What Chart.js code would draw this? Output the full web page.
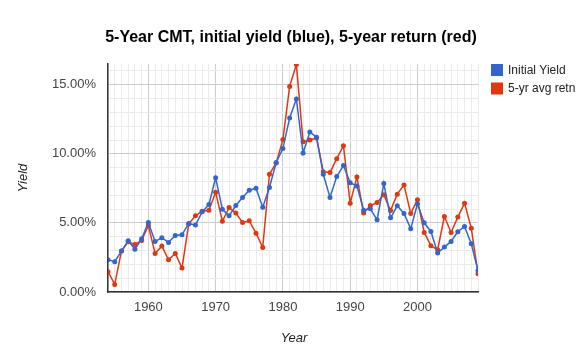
<!DOCTYPE html>
<html><head><meta charset="utf-8">
<script src="https://cdn.jsdelivr.net/npm/chart.js@4/dist/chart.umd.min.js"></script>
<style>html,body{margin:0;padding:0;background:#fff}#w{width:586px;height:352px}</style>
</head><body><div id="w"><canvas id="c" width="586" height="352"></canvas></div>
<script>
const years = [1954,1955,1956,1957,1958,1959,1960,1961,1962,1963,1964,1965,1966,1967,1968,1969,1970,1971,1972,1973,1974,1975,1976,1977,1978,1979,1980,1981,1982,1983,1984,1985,1986,1987,1988,1989,1990,1991,1992,1993,1994,1995,1996,1997,1998,1999,2000,2001,2002,2003,2004,2005,2006,2007,2008,2009];
const initialYield = [2.33,2.19,2.96,3.71,3.10,3.85,5.03,3.66,3.92,3.59,4.09,4.14,4.96,4.84,5.80,6.33,8.26,5.98,5.51,6.26,6.84,7.37,7.51,6.14,7.56,9.37,10.38,12.60,13.97,10.06,11.58,11.20,8.52,6.84,8.35,9.15,7.90,7.68,5.92,6.02,5.22,7.85,5.37,6.24,5.68,4.57,6.38,5.01,4.38,2.82,3.25,3.66,4.36,4.74,3.49,1.56];
const avgReturn = [1.47,0.55,2.96,3.63,3.44,3.73,4.81,2.79,3.32,2.33,2.79,1.73,4.93,5.51,5.85,5.92,7.22,5.12,6.11,5.71,5.03,5.15,4.26,3.22,8.52,9.34,11.03,14.88,16.47,10.88,11.00,11.15,8.71,8.64,9.65,10.59,6.43,8.33,5.71,6.26,6.47,7.03,5.90,7.08,7.75,5.68,6.67,4.31,3.35,3.06,5.46,4.31,5.42,6.43,4.62,1.32];
const yTickLabels = [0,5,10,15];
const xTickLabels = [1960,1970,1980,1990,2000];
const seriesNames = ['Initial Yield','5-yr avg retn'];
const titleText = '5-Year CMT, initial yield (blue), 5-year return (red)';
const BLUE = '#3366cc', RED = '#dc3912';

const toPts = arr => arr.map((v,i)=>({x:years[i], y:v}));

const deco = {
  id:'deco',
  afterDraw(chart){
    const c = chart.ctx; c.save();
    c.fillStyle = '#000';
    c.font = 'bold 16px "Liberation Sans", Arial, sans-serif';
    c.textAlign = 'center'; c.textBaseline = 'middle';
    c.fillText(titleText, 291, 38);
    c.fillStyle = '#222';
    c.font = 'italic 13px "Liberation Sans", Arial, sans-serif';
    c.fillText('Year', 294, 338);
    c.save(); c.translate(23, 178); c.rotate(-Math.PI/2); c.fillText('Yield', 0, 0); c.restore();
    const cols = [BLUE, RED];
    c.font = '12px "Liberation Sans", Arial, sans-serif';
    c.textAlign = 'left';
    seriesNames.forEach((n,i)=>{
      const y = 64 + i*18.5;
      c.fillStyle = cols[i]; c.fillRect(491, y, 12, 12);
      c.fillStyle = '#222'; c.fillText(n, 508, y+6.5);
    });
    c.restore();
  }
};

new Chart(document.getElementById('c'), {
  type:'line',
  data:{ datasets:[
    {label:seriesNames[0], data:toPts(initialYield), borderColor:BLUE, backgroundColor:BLUE, borderWidth:1.5, pointRadius:2.5, pointBorderWidth:0, tension:0},
    {label:seriesNames[1], data:toPts(avgReturn), borderColor:RED, backgroundColor:RED, borderWidth:1.5, pointRadius:2.5, pointBorderWidth:0, tension:0}
  ]},
  options:{
    responsive:false, animation:false, devicePixelRatio:1,
    layout:{padding:{left:0,right:108,top:64,bottom:0}},
    plugins:{legend:{display:false}, title:{display:false}, tooltip:{enabled:false}},
    scales:{
      x:{type:'linear', min:1954, max:2009,
        afterFit(s){ s.height = 60; },
        afterBuildTicks(s){ const t=[]; for(let v=1954; v<=2009; v++) t.push({value:v}); s.ticks=t; },
        ticks:{autoSkip:false, maxRotation:0, padding:8, color:'#444',
          font:{family:'"Liberation Sans", Arial, sans-serif', size:13},
          callback:(v)=> xTickLabels.includes(v) ? String(v) : ''},
        grid:{drawTicks:false, lineWidth:1, color:(ctx)=> (ctx.tick && ctx.tick.value%10===0) ? '#cccccc' : '#ebebeb'},
        border:{color:'#333', width:1.5}
      },
      y:{min:0, max:16.5,
        afterFit(s){ s.width = 108; },
        afterBuildTicks(s){ const t=[]; for(let v=0; v<=16; v++) t.push({value:v}); s.ticks=t; },
        ticks:{autoSkip:false, padding:12, color:'#444',
          font:{family:'"Liberation Sans", Arial, sans-serif', size:13},
          callback:(v)=> yTickLabels.includes(v) ? v.toFixed(2)+'%' : ''},
        grid:{drawTicks:false, lineWidth:1, color:(ctx)=> (ctx.tick && ctx.tick.value%5===0) ? '#cccccc' : '#ebebeb'},
        border:{color:'#333', width:1.5}
      }
    }
  },
  plugins:[deco]
});
</script>
</body></html>
